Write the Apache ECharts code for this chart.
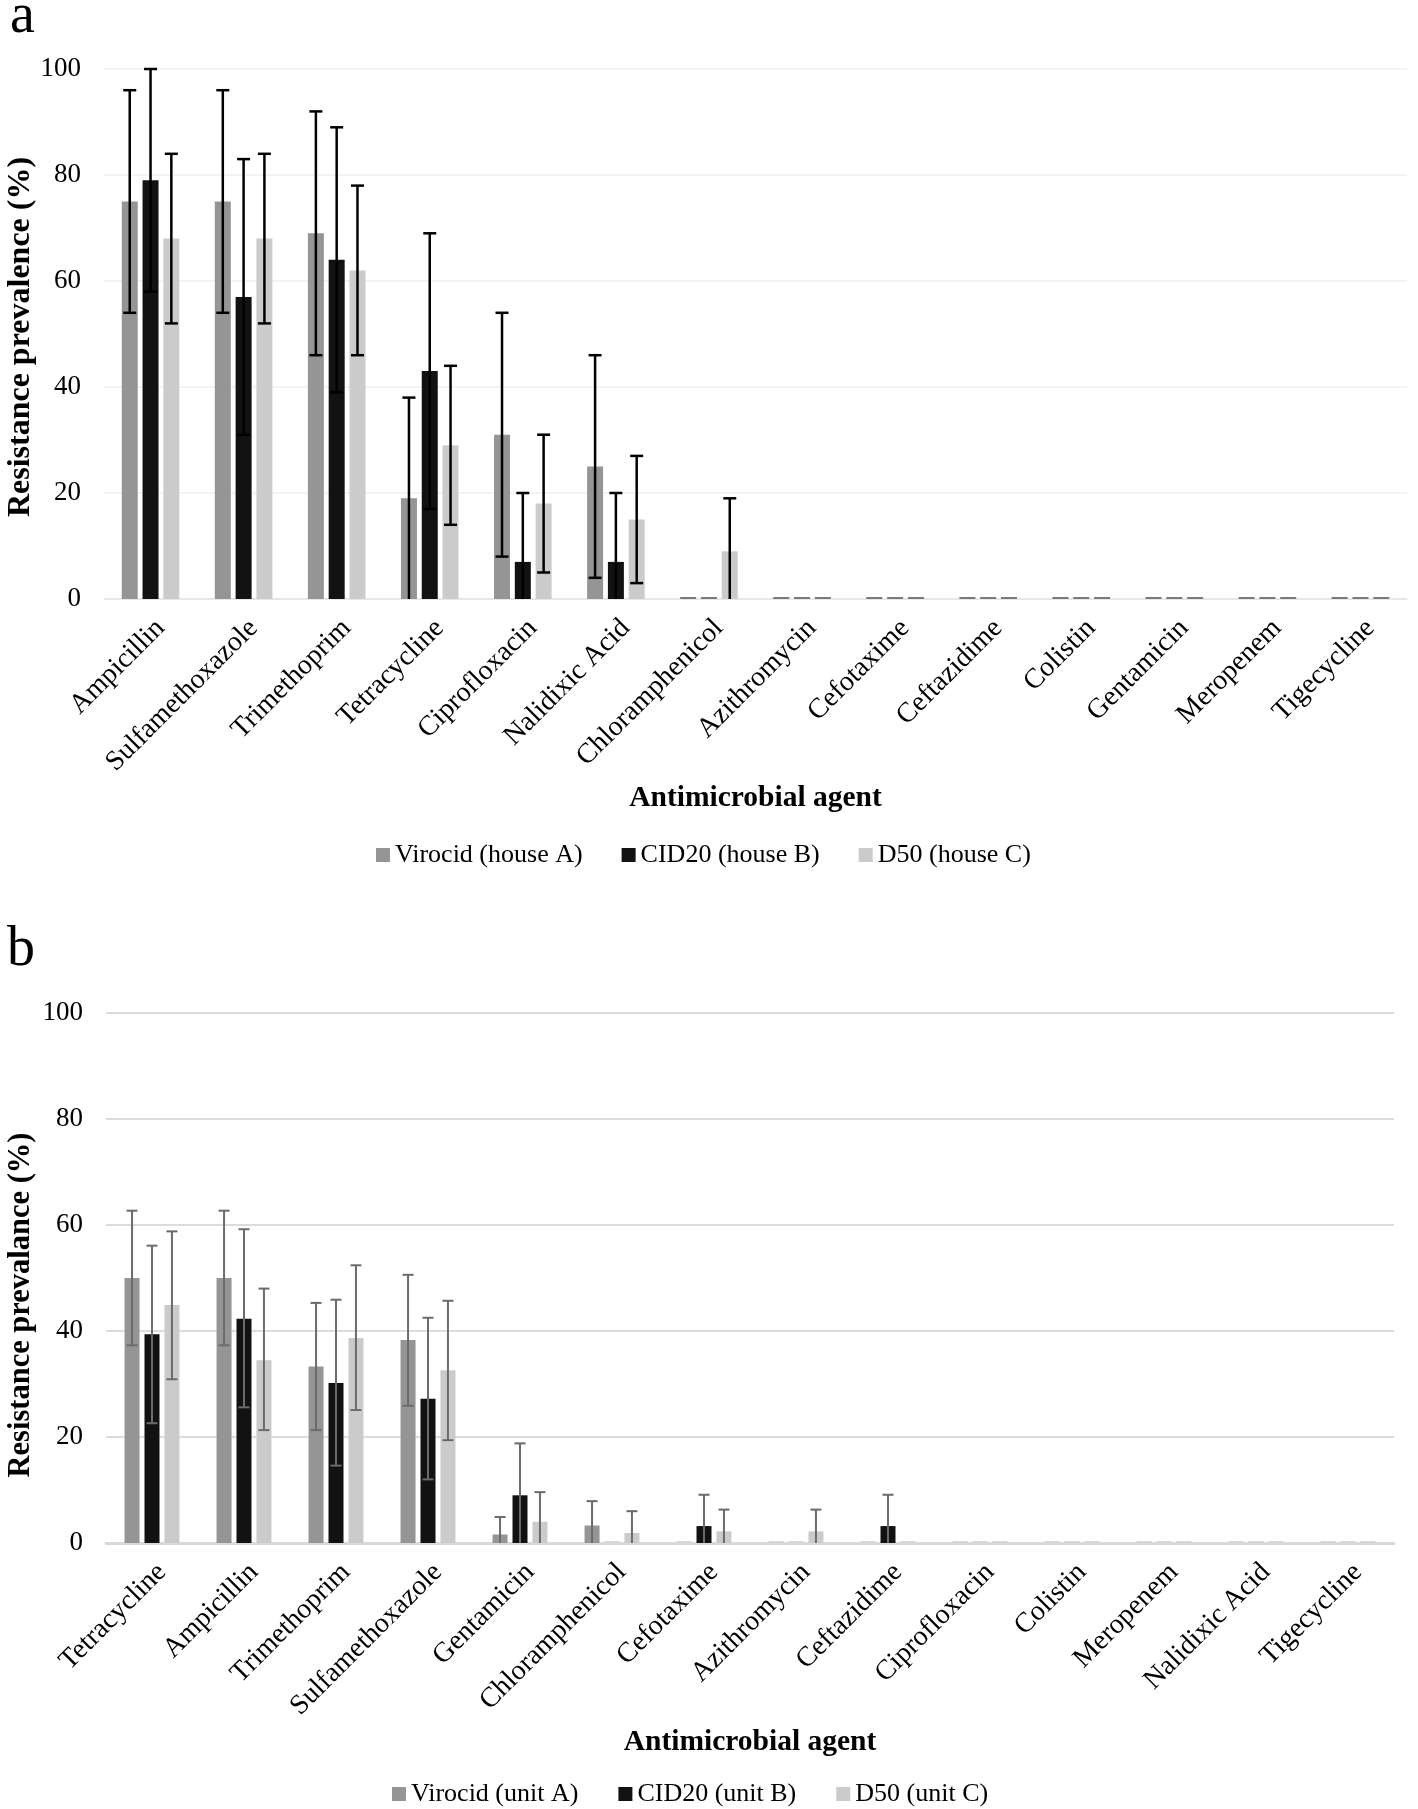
<!DOCTYPE html>
<html><head><meta charset="utf-8">
<script src="https://cdn.jsdelivr.net/npm/echarts@6/dist/echarts.min.js"></script>
<style>html,body{margin:0;padding:0;background:#fff}#c{width:1418px;height:1809px}</style>
</head><body><div id="c"></div><script>
// ---------- Panel a data ----------
var catsA = ['Ampicillin','Sulfamethoxazole','Trimethoprim','Tetracycline','Ciprofloxacin','Nalidixic Acid','Chloramphenicol','Azithromycin','Cefotaxime','Ceftazidime','Colistin','Gentamicin','Meropenem','Tigecycline'];
var seriesNamesA = ['Virocid (house A)','CID20 (house B)','D50 (house C)'];
var aVirocid   = [75,75,69,19,31,25,0,0,0,0,0,0,0,0];
var aVirocidHi = [96,96,92,38,54,46,null,null,null,null,null,null,null,null];
var aVirocidLo = [54,54,46,0,8,4,null,null,null,null,null,null,null,null];
var aCid       = [79,57,64,43,7,7,0,0,0,0,0,0,0,0];
var aCidHi     = [100,83,89,69,20,20,null,null,null,null,null,null,null,null];
var aCidLo     = [58,31,39,17,0,0,null,null,null,null,null,null,null,null];
var aD50       = [68,68,62,29,18,15,9,0,0,0,0,0,0,0];
var aD50Hi     = [84,84,78,44,31,27,19,null,null,null,null,null,null,null];
var aD50Lo     = [52,52,46,14,5,3,0,null,null,null,null,null,null,null];

// ---------- Panel b data ----------
var catsB = ['Tetracycline','Ampicillin','Trimethoprim','Sulfamethoxazole','Gentamicin','Chloramphenicol','Cefotaxime','Azithromycin','Ceftazidime','Ciprofloxacin','Colistin','Meropenem','Nalidixic Acid','Tigecycline'];
var seriesNamesB = ['Virocid (unit A)','CID20 (unit B)','D50 (unit C)'];
var bVirocid   = [50,50,33.3,38.3,1.6,3.3,0,0,0,0,0,0,0,0];
var bVirocidHi = [62.7,62.7,45.3,50.6,4.9,7.9,null,null,null,null,null,null,null,null];
var bVirocidLo = [37.3,37.3,21.3,25.9,0,0,null,null,null,null,null,null,null,null];
var bCid       = [39.4,42.3,30.2,27.2,9.0,0,3.2,0,3.2,0,0,0,0,0];
var bCidHi     = [56.1,59.2,45.9,42.5,18.8,null,9.1,null,9.1,null,null,null,null,null];
var bCidLo     = [22.6,25.6,14.6,12.0,0,null,0,null,0,null,null,null,null,null];
var bD50       = [44.9,34.5,38.7,32.6,4.0,1.9,2.2,2.2,0,0,0,0,0,0];
var bD50Hi     = [58.8,48.0,52.4,45.7,9.6,6.0,6.3,6.3,null,null,null,null,null,null];
var bD50Lo     = [30.9,21.3,25.1,19.4,0,0,0,0,null,null,null,null,null,null];

var yTicks = [0,20,40,60,80,100];
var yNameA = 'Resistance prevalence (%)';
var yNameB = 'Resistance prevalance (%)';
var xName = 'Antimicrobial agent';

// ---------- styling ----------
var FONT = 'Liberation Serif';
var colors = ['#959595','#121212','#cbcbcb'];

function barData(vals, zeroColor) {
  return vals.map(function (v) {
    return v === 0 ? {value: 0, itemStyle: {color: zeroColor}} : v;
  });
}
function errData(hi, lo) {
  var out = [];
  hi.forEach(function (h, i) { if (h !== null) out.push([i, h, lo[i]]); });
  return out;
}
function errRender(shift, capHalf, color, lw) {
  return function (params, api) {
    var cat = api.value(0), hi = api.value(1), lo = api.value(2);
    var top = api.coord([cat, hi]);
    var bot = api.coord([cat, Math.max(lo, 0)]);
    var x = top[0] + shift;
    var st = {stroke: color, lineWidth: lw};
    var kids = [
      {type: 'line', shape: {x1: x, y1: top[1], x2: x, y2: bot[1]}, style: st},
      {type: 'line', shape: {x1: x - capHalf, y1: top[1], x2: x + capHalf, y2: top[1]}, style: st}
    ];
    if (lo > 0) kids.push({type: 'line', shape: {x1: x - capHalf, y1: bot[1], x2: x + capHalf, y2: bot[1]}, style: st});
    return {type: 'group', children: kids};
  };
}

var stepA = 16 * 1.3, stepB = 15 * 1.33;

function xAxisCfg(cats, gridIndex, lineColor, lineW) {
  return {
    type: 'category', gridIndex: gridIndex, data: cats,
    axisTick: {show: false},
    axisLine: {lineStyle: {color: lineColor, width: lineW}},
    axisLabel: {interval: 0, rotate: 45, fontFamily: FONT, fontSize: 28, color: '#000', margin: 15, verticalAlign: 'top'},
    name: xName, nameLocation: 'middle', nameGap: 184,
    nameTextStyle: {fontFamily: FONT, fontSize: 29.5, fontWeight: 'bold', color: '#000'}
  };
}
function yAxisCfg(gridIndex, splitColor, splitW) {
  return {
    type: 'value', gridIndex: gridIndex, min: yTicks[0], max: yTicks[yTicks.length - 1], interval: yTicks[1] - yTicks[0],
    axisLine: {show: false}, axisTick: {show: false},
    axisLabel: {fontFamily: FONT, fontSize: 27, color: '#000', margin: 23},
    splitLine: {lineStyle: {color: splitColor, width: splitW}}
  };
}

var series = [];
var aVals = [aVirocid, aCid, aD50], aHi = [aVirocidHi, aCidHi, aD50Hi], aLo = [aVirocidLo, aCidLo, aD50Lo];
var bVals = [bVirocid, bCid, bD50], bHi = [bVirocidHi, bCidHi, bD50Hi], bLo = [bVirocidLo, bCidLo, bD50Lo];
for (var i = 0; i < 3; i++) {
  series.push({
    type: 'bar', name: seriesNamesA[i], xAxisIndex: 0, yAxisIndex: 0,
    data: barData(aVals[i], '#7a7a7a'), barWidth: 16, barGap: '30%', barMinHeight: 2,
    itemStyle: {color: colors[i]}, z: 2
  });
}
for (var i = 0; i < 3; i++) {
  series.push({
    type: 'bar', name: seriesNamesB[i], xAxisIndex: 1, yAxisIndex: 1,
    data: barData(bVals[i], '#d6d6d6'), barWidth: 15, barGap: '33%', barMinHeight: 2,
    itemStyle: {color: colors[i]}, z: 2
  });
}
for (var i = 0; i < 3; i++) {
  series.push({
    type: 'custom', name: 'errA' + i, xAxisIndex: 0, yAxisIndex: 0, z: 5,
    data: errData(aHi[i], aLo[i]), encode: {x: 0, y: [1, 2]},
    renderItem: errRender((i - 1) * stepA, 6.5, '#000', 2.5), silent: true
  });
  series.push({
    type: 'custom', name: 'errB' + i, xAxisIndex: 1, yAxisIndex: 1, z: 5,
    data: errData(bHi[i], bLo[i]), encode: {x: 0, y: [1, 2]},
    renderItem: errRender((i - 1) * stepB, 5.5, '#6b6b6b', 2), silent: true
  });
}

var legendText = {fontFamily: FONT, fontSize: 26, color: '#000'};
var option = {
  backgroundColor: '#fff',
  animation: false,
  grid: [
    {left: 104, top: 69, width: 1303, height: 530},
    {left: 106, top: 1013, width: 1288, height: 530}
  ],
  xAxis: [xAxisCfg(catsA, 0, '#e3e3e3', 1.5), xAxisCfg(catsB, 1, '#d9d9d9', 3)],
  yAxis: [yAxisCfg(0, '#efefef', 1.5), yAxisCfg(1, '#dcdcdc', 2)],
  legend: [
    {data: seriesNamesA, left: 376, top: 842, orient: 'horizontal', padding: 0, itemGap: 39,
     itemWidth: 14, itemHeight: 14, icon: 'rect', textStyle: legendText, selectedMode: false},
    {data: seriesNamesB, left: 392, top: 1781, orient: 'horizontal', padding: 0, itemGap: 40,
     itemWidth: 14, itemHeight: 14, icon: 'rect', textStyle: legendText, selectedMode: false}
  ],
  graphic: [
    {type: 'text', left: 10, top: -11, style: {text: 'a', font: '56px "Liberation Serif"', fill: '#000'}},
    {type: 'text', left: 7, top: 922, style: {text: 'b', font: '56px "Liberation Serif"', fill: '#000'}},
    {type: 'text', x: 21, y: 337, rotation: Math.PI / 2,
     style: {text: yNameA, font: 'bold 32px "Liberation Serif"', fill: '#000', align: 'center', verticalAlign: 'middle'}},
    {type: 'text', x: 21, y: 1305, rotation: Math.PI / 2,
     style: {text: yNameB, font: 'bold 30.5px "Liberation Serif"', fill: '#000', align: 'center', verticalAlign: 'middle'}}
  ],
  series: series
};
var chart = echarts.init(document.getElementById('c'), null, {renderer: 'canvas'});
chart.setOption(option);
</script></body></html>
